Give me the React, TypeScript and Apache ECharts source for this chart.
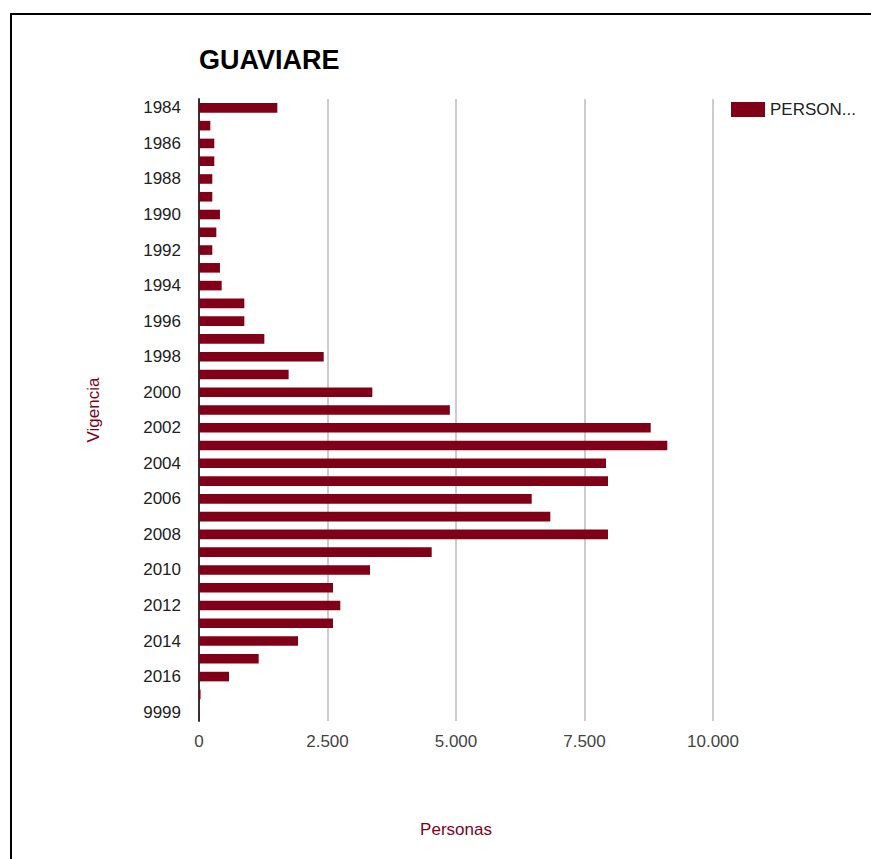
import React, { useEffect, useRef } from "react";
import * as echarts from "echarts";

const categories = [
  "1984", "1985", "1986", "1987", "1988", "1989", "1990", "1991", "1992", "1993",
  "1994", "1995", "1996", "1997", "1998", "1999", "2000", "2001", "2002", "2003",
  "2004", "2005", "2006", "2007", "2008", "2009", "2010", "2011", "2012", "2013",
  "2014", "2015", "2016", "2017", "9999",
];

const personas = [
  1524, 220, 298, 298, 259, 259, 408, 337, 259, 408,
  441, 882, 882, 1271, 2426, 1744, 3372, 4880, 8788, 9111,
  7918, 7957, 6473, 6835, 7957, 4527, 3327, 2607, 2749, 2607,
  1926, 1161, 584, 30, 8,
];

const xTicks = { min: 0, max: 10000, interval: 2500 };

const BAR = "#800018";
const FONT = "Liberation Sans, Arial, sans-serif";

function fmt(v: number): string {
  return String(Math.round(v)).replace(/\B(?=(\d{3})+(?!\d))/g, ".");
}

export default function App() {
  const ref = useRef<HTMLDivElement>(null);
  useEffect(() => {
    if (!ref.current) return;
    const chart = echarts.init(ref.current, null, { renderer: "svg" });
    chart.setOption({
      animation: false,
      backgroundColor: "#ffffff",
      textStyle: { fontFamily: FONT },
      title: {
        text: "GUAVIARE",
        left: 199,
        top: 46,
        padding: 0,
        textStyle: { fontSize: 27, fontWeight: "bold", color: "#000", fontFamily: FONT },
      },
      legend: {
        left: 731,
        top: 101,
        padding: 0,
        itemWidth: 34,
        itemHeight: 15,
        icon: "rect",
        formatter: () => "PERSON...",
        textStyle: { fontSize: 17, color: "#222", fontFamily: FONT },
        data: ["PERSONAS"],
      },
      graphic: [
        {
          type: "rect",
          shape: { x: 11, y: 14, width: 900, height: 900 },
          style: { fill: "none", stroke: "#000", lineWidth: 2 },
          silent: true,
          z: 100,
        },
      ],
      grid: { left: 199, top: 99, width: 514, height: 622, containLabel: false },
      xAxis: {
        type: "value",
        min: xTicks.min,
        max: xTicks.max,
        interval: xTicks.interval,
        name: "Personas",
        nameLocation: "middle",
        nameGap: 100,
        nameTextStyle: { color: BAR, fontSize: 17, fontFamily: FONT },
        axisLine: { show: false },
        axisTick: { show: false },
        axisLabel: {
          formatter: (v: number) => fmt(v),
          fontSize: 17,
          color: "#444",
          margin: 12,
          fontFamily: FONT,
        },
        splitLine: { show: true, lineStyle: { color: "#cccccc", width: 2 } },
      },
      yAxis: {
        type: "category",
        inverse: true,
        data: categories,
        name: "Vigencia",
        nameLocation: "middle",
        nameGap: 97,
        nameRotate: 90,
        nameTextStyle: { color: BAR, fontSize: 17, fontFamily: FONT },
        axisLine: { show: true, lineStyle: { color: "#333", width: 2 } },
        axisTick: { show: false },
        axisLabel: {
          interval: 1,
          fontSize: 17,
          color: "#222",
          margin: 18,
          fontFamily: FONT,
        },
        splitLine: { show: false },
      },
      series: [
        {
          name: "PERSONAS",
          type: "bar",
          data: personas,
          barCategoryGap: "46%",
          itemStyle: { color: BAR },
          z: 1,
        },
      ],
    });
    return () => chart.dispose();
  }, []);
  return (
    <div
      ref={ref}
      style={{ position: "fixed", left: 0, top: 0, width: 871, height: 859 }}
    />
  );
}
